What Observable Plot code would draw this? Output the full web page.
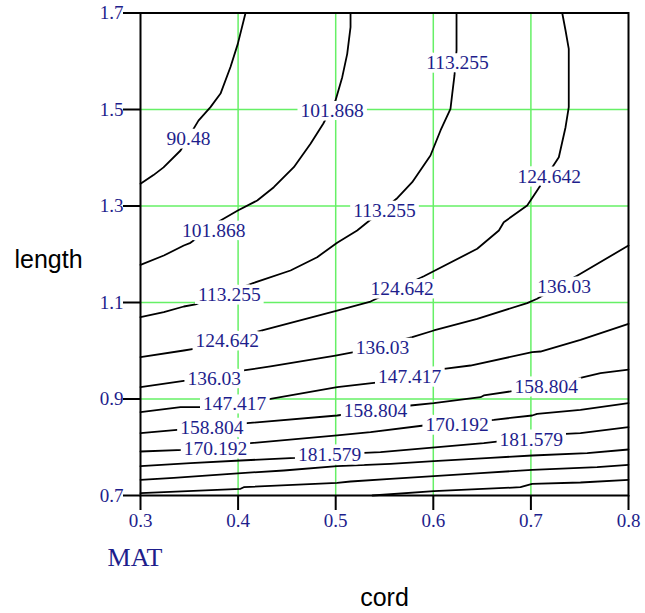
<!DOCTYPE html>
<html><head><meta charset="utf-8">
<script src="https://cdn.jsdelivr.net/npm/d3@7"></script>
<script src="https://cdn.jsdelivr.net/npm/@observablehq/plot@0.6"></script>
<style>body{margin:0;background:#fff}</style>
</head><body><div id="chart"></div>
<script>
// Axis ticks and grid
const xTicks = [0.3, 0.4, 0.5, 0.6, 0.7, 0.8];
const yTicks = [0.7, 0.9, 1.1, 1.3, 1.5, 1.7];
const gridX = [0.4, 0.5, 0.6, 0.7];
const gridY = [0.9, 1.1, 1.3, 1.5];

// Contour levels
const levels = [90.48, 101.868, 113.255, 124.642, 136.03, 147.417, 158.804, 170.192, 181.579, 192.967, 204.354, 215.742];

// Contour polylines (cord, length)
const c090 = [[0.4076,1.7],[0.3997,1.636],[0.3922,1.588],[0.382,1.533],[0.3717,1.505],[0.3594,1.477],[0.341,1.415],[0.3236,1.38],[0.3133,1.364],[0.3,1.346]];
const c101 = [[0.5152,1.7],[0.5152,1.6706],[0.5118,1.6154],[0.5067,1.567],[0.4998,1.5187],[0.4872,1.4704],[0.4742,1.4289],[0.4571,1.3804],[0.4366,1.339],[0.4196,1.3114],[0.3997,1.2907],[0.382,1.27],[0.3512,1.2237],[0.3444,1.2181],[0.3239,1.1974],[0.3,1.1781]];
const c113 = [[0.6238,1.7],[0.6238,1.6223],[0.6217,1.5705],[0.6194,1.5325],[0.6176,1.5014],[0.6074,1.4565],[0.5971,1.4047],[0.5784,1.3493],[0.5623,1.3149],[0.522,1.2492],[0.5015,1.2237],[0.481,1.1939],[0.4537,1.1663],[0.4161,1.1408],[0.3564,1.0959],[0.3444,1.0917],[0.3239,1.0799],[0.3,1.0695]];
const c124 = [[0.7321,1.7],[0.7355,1.6637],[0.7388,1.6258],[0.7388,1.5048],[0.7355,1.4633],[0.7286,1.4011],[0.7064,1.3321],[0.6962,1.301],[0.6722,1.2664],[0.6672,1.2492],[0.645,1.2113],[0.5903,1.1545],[0.5357,1.102],[0.5015,1.0834],[0.4247,1.042],[0.3546,1.004],[0.3444,1.0005],[0.3,0.9866]];
const c136 = [[0.8,1.2181],[0.7508,1.1595],[0.7064,1.1077],[0.6962,1.0986],[0.645,1.0662],[0.6005,1.042],[0.5784,1.0281],[0.5186,0.997],[0.4998,0.9901],[0.4332,0.9674],[0.4058,0.9591],[0.3461,0.9383],[0.3,0.9245]];
const c147 = [[0.8,1.0559],[0.7508,1.0227],[0.7098,0.9984],[0.7013,0.997],[0.6381,0.9694],[0.6108,0.9626],[0.5459,0.9348],[0.5015,0.9245],[0.4332,0.9004],[0.3615,0.883],[0.341,0.883],[0.3,0.8726]];
const c158 = [[0.8,0.9611],[0.7713,0.9535],[0.7508,0.9439],[0.6808,0.9162],[0.6517,0.9073],[0.6484,0.9037],[0.6005,0.8913],[0.5766,0.8865],[0.5015,0.8658],[0.4093,0.8498],[0.3376,0.8362],[0.3,0.8291]];
const c170 = [[0.8,0.8913],[0.7508,0.8776],[0.7064,0.8693],[0.7013,0.8658],[0.662,0.8569],[0.5902,0.8451],[0.5357,0.8312],[0.5015,0.8244],[0.4127,0.8084],[0.3444,0.7947],[0.3,0.7912]];
const c181 = [[0.3,0.7607],[0.3512,0.7669],[0.4025,0.7725],[0.4588,0.7781],[0.5288,0.7885],[0.5459,0.7897],[0.6517,0.8084],[0.7355,0.8279],[0.7508,0.8291],[0.8,0.8416]];
const c193 = [[0.3,0.7325],[0.3341,0.7367],[0.3922,0.745],[0.4468,0.7518],[0.5015,0.7607],[0.5561,0.7657],[0.6005,0.7711],[0.6586,0.7781],[0.7013,0.7829],[0.7577,0.7877],[0.8,0.7953]];
const c204 = [[0.3,0.7048],[0.4025,0.7139],[0.4058,0.7172],[0.5015,0.7263],[0.5152,0.729],[0.5561,0.7346],[0.6005,0.74],[0.6484,0.7462],[0.7013,0.7533],[0.7679,0.7586],[0.8,0.7636]];
const c215 = [[0.5377,0.7],[0.6005,0.7089],[0.6893,0.7172],[0.7013,0.7242],[0.7508,0.7269],[0.8,0.7325]];
const contourLines = [c090, c101, c113, c124, c136, c147, c158, c170, c181, c193, c204, c215];

// Contour labels
const labelText = ["90.48","101.868","101.868","113.255","113.255","113.255","124.642","124.642","124.642","136.03","136.03","136.03","147.417","147.417","158.804","158.804","158.804","170.192","170.192","181.579","181.579"];
const labelX = [0.3492,0.4964,0.3751,0.6248,0.55,0.391,0.7188,0.5681,0.3889,0.734,0.548,0.3756,0.5758,0.3965,0.7157,0.5408,0.3731,0.6244,0.3768,0.4938,0.7004];
const labelY = [1.4399,1.4975,1.2492,1.5964,1.2907,1.1162,1.3616,1.1284,1.0198,1.1325,1.0067,0.9419,0.9452,0.8892,0.9245,0.8762,0.8409,0.8461,0.7968,0.7839,0.8165];

const NAVY = "#1e1e8c";
const GREEN = "#66f066";
const SERIF = "'Liberation Serif','Times New Roman',serif";
const SANS = "'Liberation Sans',Arial,sans-serif";

const lineRows = [];
contourLines.forEach((pts, k) => pts.forEach(([x, y], i) => lineRows.push({level: levels[k], x, y, i})));
const labelRows = labelText.map((t, i) => ({t, x: labelX[i], y: labelY[i]}));
const fmt = d => d.toFixed(1);

const chart = Plot.plot({
  width: 645, height: 613,
  marginLeft: 140, marginRight: 17, marginTop: 12.5, marginBottom: 118,
  style: {background: "white", fontFamily: SERIF, fontSize: "19px"},
  x: {domain: [0.3, 0.8]},
  y: {domain: [0.7, 1.7]},
  marks: [
    Plot.ruleX(gridX, {stroke: GREEN, strokeWidth: 1.5}),
    Plot.ruleY(gridY, {stroke: GREEN, strokeWidth: 1.5}),
    Plot.line(lineRows, {x: "x", y: "y", z: "level", stroke: "black", strokeWidth: 1.8}),
    Plot.text(labelRows, {x: "x", y: "y", text: "t", fill: NAVY, stroke: "white", strokeWidth: 7, paintOrder: "stroke", fontSize: 19.5, fontFamily: SERIF}),
    Plot.frame({stroke: "black", strokeWidth: 2}),
    Plot.axisX(xTicks, {tickSize: 15, tickPadding: 3, stroke: "black", strokeWidth: 2, fill: NAVY, fontSize: 19, fontFamily: SERIF, tickFormat: fmt, label: null}),
    Plot.axisY(yTicks, {tickSize: 17, tickPadding: 0, stroke: "black", strokeWidth: 2, fill: NAVY, fontSize: 19, fontFamily: SERIF, tickFormat: fmt, label: null}),
    Plot.text(["cord"], {frameAnchor: "bottom", dy: 102, text: d => d, fill: "black", fontSize: 25, fontFamily: SANS, lineAnchor: "middle"}),
    Plot.text(["length"], {frameAnchor: "left", dx: -92, dy: 6, text: d => d, fill: "black", fontSize: 25, fontFamily: SANS, textAnchor: "middle", lineAnchor: "middle"}),
    Plot.text(["MAT"], {frameAnchor: "bottom-left", dx: -5.5, dy: 62, text: d => d, fill: NAVY, fontSize: 26, fontFamily: SERIF, textAnchor: "middle", lineAnchor: "middle"})
  ]
});
document.getElementById("chart").append(chart);

// White boxes behind contour labels (like the original), sized from each label's own box
const labelSet = new Set(labelText);
Array.from(chart.querySelectorAll("text")).forEach(t => {
  if (!labelSet.has(t.textContent)) return;
  let b;
  try { b = t.getBBox(); } catch (e) { return; }
  if (!b || !b.width) return;
  const h = 19, cy = b.y + b.height / 2;
  const r = document.createElementNS("http://www.w3.org/2000/svg", "rect");
  r.setAttribute("x", b.x - 3);
  r.setAttribute("width", b.width + 6);
  r.setAttribute("y", cy - h / 2);
  r.setAttribute("height", h);
  r.setAttribute("fill", "white");
  r.setAttribute("stroke", "none");
  const tr = t.getAttribute("transform");
  if (tr) r.setAttribute("transform", tr);
  t.parentNode.insertBefore(r, t);
});
</script>
</body></html>
